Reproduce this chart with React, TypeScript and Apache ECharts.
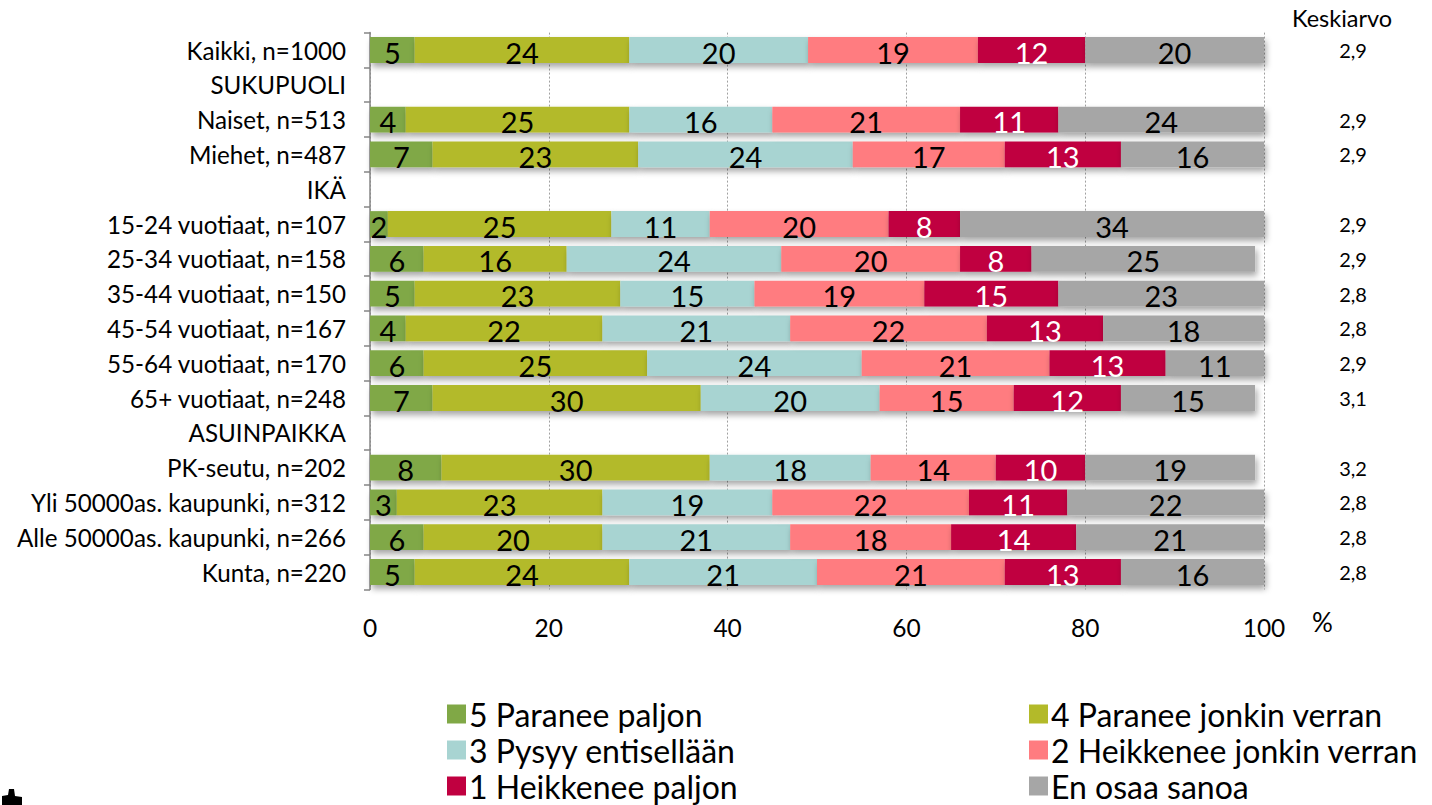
import React, { useEffect, useRef } from "react";
import * as echarts from "echarts";

const categories = [
  "Kaikki, n=1000",
  "SUKUPUOLI",
  "Naiset, n=513",
  "Miehet, n=487",
  "IKÄ",
  "15-24 vuotiaat, n=107",
  "25-34 vuotiaat, n=158",
  "35-44 vuotiaat, n=150",
  "45-54 vuotiaat, n=167",
  "55-64 vuotiaat, n=170",
  "65+ vuotiaat, n=248",
  "ASUINPAIKKA",
  "PK-seutu, n=202",
  "Yli 50000as. kaupunki, n=312",
  "Alle 50000as. kaupunki, n=266",
  "Kunta, n=220",
];

const keskiarvo = ["2,9", "", "2,9", "2,9", "", "2,9", "2,9", "2,8", "2,8", "2,9", "3,1", "", "3,2", "2,8", "2,8", "2,8"];

const paraneePaljon = [5, null, 4, 7, null, 2, 6, 5, 4, 6, 7, null, 8, 3, 6, 5];
const paraneeJonkin = [24, null, 25, 23, null, 25, 16, 23, 22, 25, 30, null, 30, 23, 20, 24];
const pysyy = [20, null, 16, 24, null, 11, 24, 15, 21, 24, 20, null, 18, 19, 21, 21];
const heikkeneeJonkin = [19, null, 21, 17, null, 20, 20, 19, 22, 21, 15, null, 14, 22, 18, 21];
const heikkeneePaljon = [12, null, 11, 13, null, 8, 8, 15, 13, 13, 12, null, 10, 11, 14, 13];
const enOsaa = [20, null, 24, 16, null, 34, 25, 23, 18, 11, 15, null, 19, 22, 21, 16];

const seriesNames = [
  "5 Paranee paljon",
  "4 Paranee jonkin verran",
  "3 Pysyy entisellään",
  "2 Heikkenee jonkin verran",
  "1 Heikkenee paljon",
  "En osaa sanoa",
];
const seriesData = [paraneePaljon, paraneeJonkin, pysyy, heikkeneeJonkin, heikkeneePaljon, enOsaa];
const colors = ["#80A846", "#B3BA29", "#A8D4D2", "#FF7C80", "#C00040", "#A6A6A6"];
const labelColors = ["#000", "#000", "#000", "#000", "#fff", "#000"];

const xTicks = [0, 20, 40, 60, 80, 100];

const FONT = "Lato, 'Open Sans', sans-serif";

export default function App() {
  const ref = useRef<HTMLDivElement>(null);
  useEffect(() => {
    if (!ref.current) return;
    const chart = echarts.init(ref.current, null, { renderer: "svg" });
    const legendCommon = {
      top: 698,
      height: 130,
      padding: 0,
      orient: "vertical",
      itemGap: 4,
      itemWidth: 19,
      itemHeight: 19,
      icon: "rect",
      textStyle: { fontSize: 32, color: "#000", fontFamily: FONT, padding: [0, 0, 0, -2] },
    };
    const option: any = {
      animation: false,
      textStyle: { fontFamily: FONT },
      grid: { left: 370, right: 168, top: 32.6, bottom: 215.6, containLabel: false },
      xAxis: {
        type: "value",
        min: xTicks[0],
        max: xTicks[xTicks.length - 1],
        interval: 20,
        axisLine: { show: false },
        axisTick: { show: false },
        axisLabel: { fontSize: 24.5, color: "#000", margin: 26, fontFamily: FONT },
        splitLine: { show: true, lineStyle: { color: "#A0A0A0", type: [2, 2], width: 1 } },
      },
      yAxis: [
        {
          type: "category",
          inverse: true,
          data: categories,
          axisLine: { show: true, lineStyle: { color: "#868686", width: 1.5 } },
          axisTick: { show: true, length: 6, lineStyle: { color: "#868686", width: 1.5 } },
          axisLabel: { fontSize: 24.2, color: "#000", margin: 24, fontFamily: FONT },
        },
        {
          type: "category",
          inverse: true,
          position: "right",
          data: keskiarvo,
          axisLine: { show: false },
          axisTick: { show: false },
          axisLabel: { fontSize: 20, color: "#000", margin: 89, align: "center", fontFamily: FONT },
        },
      ],
      legend: [
        { ...legendCommon, left: 447, data: [seriesNames[0], seriesNames[2], seriesNames[4]] },
        { ...legendCommon, left: 1029, data: [seriesNames[1], seriesNames[3], seriesNames[5]] },
      ],
      graphic: [
        {
          type: "text",
          left: 1292,
          top: 6,
          style: { text: "Keskiarvo", fontSize: 23.5, fill: "#000", fontFamily: FONT },
        },
        {
          type: "text",
          left: 1312,
          top: 609,
          style: { text: "%", fontSize: 26, fill: "#000", fontFamily: FONT },
        },
        {
          type: "polygon",
          shape: {
            points: [[2, 796], [8, 795], [9, 789], [14, 789], [15, 796], [22, 797], [22, 805], [2, 805]],
          },
          style: { fill: "#000" },
        },
      ],
      series: seriesData.map((d, i) => ({
        name: seriesNames[i],
        type: "bar",
        stack: "total",
        yAxisIndex: 0,
        barWidth: "74%",
        data: d,
        itemStyle: {
          color: colors[i],
          shadowColor: "rgba(0,0,0,0.35)",
          shadowBlur: 6,
          shadowOffsetX: 2,
          shadowOffsetY: 4,
        },
        label: {
          show: true,
          position: "inside",
          fontSize: 29,
          color: labelColors[i],
          fontFamily: FONT,
          offset: [0, 2],
          formatter: (p: any) => (p.value == null ? "" : String(p.value)),
        },
      })),
    };
    chart.setOption(option);
    return () => chart.dispose();
  }, []);
  return (
    <div
      ref={ref}
      style={{ position: "fixed", left: 0, top: 0, width: 1432, height: 805, background: "#fff" }}
    />
  );
}
